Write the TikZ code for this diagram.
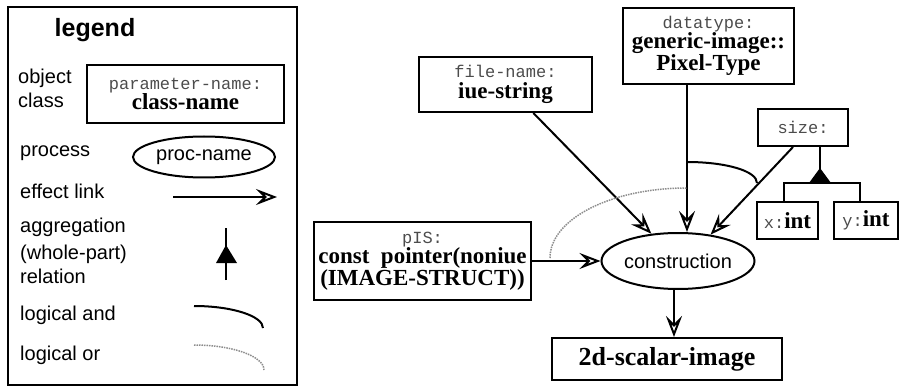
\documentclass[tikz,border=0pt]{standalone}
\usepackage{fontspec}
\setmainfont{Liberation Serif}
\setsansfont{Liberation Sans}
\setmonofont{Liberation Mono}
\usetikzlibrary{arrows.meta,shapes.geometric}
\newcommand\pnm[1]{{\ttfamily\fontsize{17}{20.5}\selectfont\color{black!70}#1}}
\newcommand\cnm[1]{{\rmfamily\bfseries\fontsize{23}{20.5}\selectfont #1}}
\begin{document}
\begin{tikzpicture}[x=1pt,y=-1pt,
  obj/.style={draw, line width=2pt, inner sep=0pt, align=center, font=\fontsize{17}{20.5}\selectfont},
  proc/.style={draw, ellipse, line width=2pt, inner sep=0pt, font=\sffamily\fontsize{20}{22}\selectfont},
  lab/.style={anchor=mid west, inner sep=0pt, font=\sffamily\fontsize{20}{22}\selectfont},
  eff/.style={line width=2pt, -{Stealth[open, length=21pt, width=16pt, inset=8pt, line width=2pt]}},
  andarc/.style={line width=2pt},
  orarc/.style={line width=1.5pt, densely dotted, black!45},
  ]
\useasboundingbox (0,0) rectangle (899,390);
% ---------- legend ----------
\node[draw, line width=2pt, minimum width=289, minimum height=378, inner sep=0pt] (legbox) at (152.5,196) {};
\node[inner sep=0pt, font=\sffamily\bfseries\fontsize{25}{27}\selectfont] (legtitle) at (95,30) {legend};
\node[lab] (l-obj) at (18,81) {object};
\node[lab] (l-cls) at (18,105) {class};
\node[obj, minimum width=197, minimum height=58] (leg-obj) at (185.5,94) {\pnm{parameter-name:}\\\cnm{class-name}};
\node[lab] (l-proc) at (20,154) {process};
\node[proc, minimum width=142, minimum height=41] (leg-proc) at (204,157) {proc-name};
\node[lab] (l-eff) at (20,196) {effect link};
\coordinate (el-a) at (173,197);
\coordinate (el-b) at (277,197);
\draw[eff] (el-a) -- (el-b);
\node[lab] (l-agg1) at (20,230) {aggregation};
\node[lab] (l-agg2) at (20,257) {(whole-part)};
\node[lab] (l-agg3) at (20,281) {relation};
\coordinate (ag-top) at (226,228);
\coordinate (ag-bot) at (226,280);
\draw[line width=2pt] (ag-bot) -- (ag-top);
\fill (226,245) -- (216,263) -- (237,263) -- cycle;
\node[lab] (l-and) at (20,318) {logical and};
\draw[andarc] (194,306) .. controls (232,306) and (263,316) .. (263,328);
\node[lab] (l-or) at (20,358) {logical or};
\draw[orarc] (194,345) .. controls (232,345) and (264,356) .. (264,370);
% ---------- main diagram ----------
\node[obj, minimum width=173, minimum height=55] (fn) at (505.5,84.5) {\pnm{file-name:}\\\cnm{iue-string}};
\node[obj, minimum width=171, minimum height=76] (dt) at (708.5,46) {\pnm{datatype:}\\\cnm{generic-image::}\\\cnm{Pixel-Type}};
\node[obj, minimum width=90, minimum height=37] (sz) at (803,127.5) {\pnm{size:}};
\node[obj, minimum width=61, minimum height=37] (xi) at (787.5,220.5) {\pnm{x:}\cnm{int}};
\node[obj, minimum width=64, minimum height=37] (yi) at (866,220.5) {\pnm{y:}\cnm{int}};
\node[obj, minimum width=217, minimum height=78] (pis) at (422.5,261) {\pnm{pIS:}\\\cnm{const\ \ pointer(noniue}\\\cnm{(IMAGE-STRUCT))}};
\node[proc, minimum width=153, minimum height=56] (con) at (678,261) {construction};
\node[obj, minimum width=230, minimum height=42] (img) at (667,359) {{\rmfamily\bfseries\fontsize{26}{26}\selectfont 2d-scalar-image}};
% effect links
\draw[eff] (fn) -- (con);
\draw[eff] ([xshift=-21.5pt]dt.south) -- ([xshift=9pt]con.north);
\draw[eff] ([xshift=-10pt]sz.south) -- (con.39);
\draw[eff] (pis) -- (con);
\draw[eff] ([xshift=-4pt]con.south) -- ([xshift=-4pt]con.south |- img.north);
% aggregation of size
\coordinate (sz-j) at (820,183);
\draw[line width=2pt] ([xshift=17pt]sz.south) -- (sz-j);
\fill (820,168) -- (809,183) -- (831,183) -- cycle;
\draw[line width=2pt] (xi.north -| 784,0) -- (784,183) -- (860,183) -- (yi.north -| 860,0);
% logical and / or
\draw[andarc] (687,162) .. controls (726,162) and (757,171) .. (757,183);
\draw[orarc] (550,258) .. controls (550,219) and (611,188) .. (687,188);
\end{tikzpicture}
\end{document}
